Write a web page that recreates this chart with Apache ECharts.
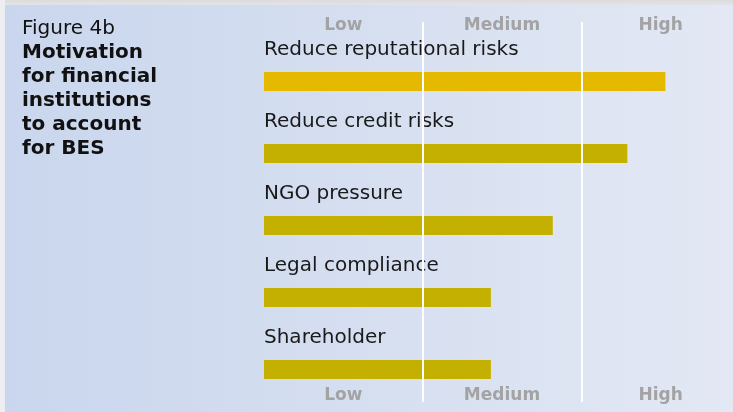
<!DOCTYPE html>
<html>
<head>
<meta charset="utf-8">
<script src="https://cdn.jsdelivr.net/npm/echarts@6/dist/echarts.min.js"></script>
<style>
  html, body { margin: 0; padding: 0; }
  #main { width: 733px; height: 412px; }
</style>
</head>
<body>
<div id="main"></div>
<script>
// motivation items, top to bottom
var categories = ['Reduce reputational risks', 'Reduce credit risks', 'NGO pressure', 'Legal compliance', 'Shareholder'];
// scores on a 0..3 scale (0 = none, 1 = low, 2 = medium, 3 = high)
var scores = [2.53, 2.29, 1.82, 1.43, 1.43];
var levelLabels = ['Low', 'Medium', 'High'];

var levelLabelStyle = {
  color: '#a3a3a3',
  fontFamily: 'DejaVu Sans',
  fontWeight: 'bold',
  fontSize: 17
};

var option = {
  animation: false,
  backgroundColor: new echarts.graphic.LinearGradient(0, 0, 1, 0, [
    { offset: 0, color: '#c9d6ed' },
    { offset: 1, color: '#e3e8f4' }
  ]),
  graphic: [
    { type: 'rect', left: 0, top: 0, shape: { width: 733, height: 5 },
      style: { fill: new echarts.graphic.LinearGradient(0, 0, 0, 1, [
        { offset: 0, color: '#dcdcdc' }, { offset: 1, color: '#e2e3e6' }]) }, z: -1 },
    { type: 'rect', left: 0, top: 0, shape: { width: 5, height: 412 },
      style: { fill: '#eceef2' }, z: -1 }
  ],
  title: [
    {
      text: 'Figure 4b',
      left: 22, top: 17, padding: 0,
      textStyle: { fontFamily: 'DejaVu Sans', fontWeight: 'normal', fontSize: 20, lineHeight: 24, color: '#111' }
    },
    {
      text: 'Motivation\nfor financial\ninstitutions\nto account\nfor BES',
      left: 22, top: 41, padding: 0,
      textStyle: { fontFamily: 'DejaVu Sans', fontWeight: 'bold', fontSize: 20, lineHeight: 24, color: '#111' }
    }
  ],
  // the scale runs a little past the right edge of the picture
  grid: [
    { left: 264, width: 476, top: 45.5, height: 360, outerBoundsMode: 'none' },
    { left: 264, width: 476, top: 22, height: 380, outerBoundsMode: 'none' }
  ],
  xAxis: [
    { gridIndex: 0, type: 'value', min: 0, max: 3, show: false },
    {
      gridIndex: 1, type: 'value', min: 0, max: 3, interval: 1, z: 10,
      axisLine: { show: false }, axisTick: { show: false }, axisLabel: { show: false },
      splitLine: { show: true, showMinLine: false, showMaxLine: false, lineStyle: { color: '#ffffff', width: 2 } }
    },
    {
      gridIndex: 1, type: 'category', position: 'top', data: levelLabels, boundaryGap: true,
      axisLine: { show: false }, axisTick: { show: false }, splitLine: { show: false },
      axisLabel: Object.assign({ inside: true, margin: -5 }, levelLabelStyle)
    },
    {
      gridIndex: 1, type: 'category', position: 'bottom', data: levelLabels, boundaryGap: true,
      axisLine: { show: false }, axisTick: { show: false }, splitLine: { show: false },
      axisLabel: Object.assign({ margin: -15 }, levelLabelStyle)
    }
  ],
  yAxis: [
    { gridIndex: 0, type: 'category', inverse: true, data: categories, show: false },
    { gridIndex: 1, type: 'value', show: false }
  ],
  series: [
    {
      type: 'bar',
      xAxisIndex: 0,
      yAxisIndex: 0,
      barWidth: 19,
      data: scores,
      itemStyle: {
        color: function (p) { return p.dataIndex === 0 ? '#e4b900' : '#c4b000'; }
      },
      label: {
        show: true,
        formatter: '{b}',
        position: [0, -22],
        align: 'left',
        verticalAlign: 'middle',
        fontFamily: 'DejaVu Sans',
        fontSize: 20,
        color: '#1a1a1a'
      }
    }
  ]
};

var chart = echarts.init(document.getElementById('main'));
chart.setOption(option);
</script>
</body>
</html>
